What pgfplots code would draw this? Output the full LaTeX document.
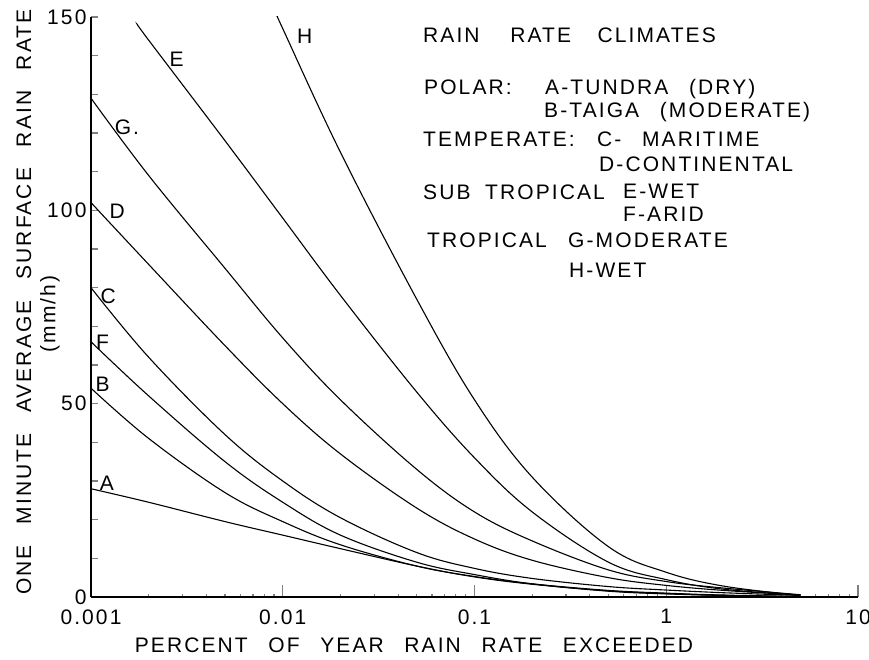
\documentclass[border=0pt]{standalone}
\usepackage{fontspec}
\setmainfont{Liberation Sans}
\newfontfamily\lt{Liberation Sans}[LetterSpace=10.0, WordSpace=2.6]
\usepackage{pgfplots}
\pgfplotsset{compat=1.18}
\newcommand{\fs}{\fontsize{21}{25}\selectfont\lt}

\pgfplotstableread{
x y
0.001 28
0.002 24.5
0.005 19.5
0.01 16
0.02 12.5
0.05 8
0.1 5.2
0.2 3.3
0.5 1.6
1 0.9
2 0.4
5 0.05
}\dataA
\pgfplotstableread{
x y
0.001 54
0.002 41
0.005 27
0.01 19.5
0.02 13.5
0.05 8
0.1 5.3
0.2 3.4
0.5 1.7
1 1.0
2 0.5
5 0.15
}\dataB
\pgfplotstableread{
x y
0.001 80
0.002 62
0.005 42
0.01 30
0.02 20.5
0.05 11.5
0.1 7.4
0.2 4.8
0.5 2.7
1 1.8
2 1.1
5 0.4
}\dataC
\pgfplotstableread{
x y
0.001 102
0.002 86
0.005 65
0.01 50
0.02 37
0.05 23
0.1 15
0.2 9.5
0.5 5
1 3.0
2 1.7
5 0.5
}\dataD
\pgfplotstableread{
x y
0.00175 148
0.002 144
0.005 118
0.01 98
0.02 78
0.05 53
0.1 36
0.2 22
0.5 9
1 4.5
2 2
5 0.5
}\dataE
\pgfplotstableread{
x y
0.001 66
0.002 52
0.005 35
0.01 24.5
0.02 16
0.05 9
0.1 5.8
0.2 3.4
0.5 1.5
1 0.8
2 0.4
5 0.05
}\dataF
\pgfplotstableread{
x y
0.001 129
0.002 109
0.005 85
0.01 67
0.02 51
0.05 33
0.1 22
0.2 14.5
0.5 7.0
1 4.0
2 2.3
5 0.6
}\dataG
\pgfplotstableread{
x y
0.0094 150
0.01 147
0.02 115
0.05 77
0.1 51
0.2 31
0.5 13
1 6.4
2 2.8
5 0.4
}\dataH

\begin{document}
\begin{tikzpicture}[x=1pt,y=1pt]
\path[use as bounding box] (0,0) rectangle (869,659);
\begin{axis}[
  at={(91pt,62pt)}, anchor=south west,
  scale only axis, width=767pt, height=580pt,
  xmode=log, xmin=0.001, xmax=10, ymin=0, ymax=150,
  axis x line=bottom, axis y line=left,
  axis line style={-, line width=1.2pt},
  xtick={0.001,0.01,0.1,1,10}, xticklabels={0.001,0.01,0.1,1,10},
  minor xtick={},
  ytick={0,10,...,150},
  yticklabels={0,,,,,50,,,,,100,,,,,150},
  tick align=inside,
  major tick length=7pt,
  xtick style={/pgfplots/major tick length=12pt, line width=1.1pt},
  ytick style={line width=1.1pt},
  tick label style={font=\fs},
  xticklabel style={yshift=-9pt},
  yticklabel style={xshift=-1pt},
  /pgf/number format/assume math mode=true,
  cycle list={{black, solid}},
]
\addplot[black, solid, line width=1.1pt, smooth, tension=0.6] table {\dataA};
\addplot[black, solid, line width=1.1pt, smooth, tension=0.6] table {\dataB};
\addplot[black, solid, line width=1.1pt, smooth, tension=0.6] table {\dataC};
\addplot[black, solid, line width=1.1pt, smooth, tension=0.6] table {\dataD};
\addplot[black, solid, line width=1.1pt, smooth, tension=0.6] table {\dataE};
\addplot[black, solid, line width=1.1pt, smooth, tension=0.6] table {\dataF};
\addplot[black, solid, line width=1.1pt, smooth, tension=0.6] table {\dataG};
\addplot[black, solid, line width=1.1pt, smooth, tension=0.6] table {\dataH};
\node[font=\fs] at (axis cs:0.00121,29.5) {A};
\node[font=\fs] at (axis cs:0.00115,55) {B};
\node[font=\fs] at (axis cs:0.00123,77.7) {C};
\node[font=\fs] at (axis cs:0.00137,99.7) {D};
\node[font=\fs] at (axis cs:0.00280,139) {E};
\node[font=\fs] at (axis cs:0.00115,66) {F};
\node[font=\fs] at (axis cs:0.00154,121.5) {G.};
\node[font=\fs] at (axis cs:0.01302,145) {H};
\end{axis}
\begin{scope}[every node/.style={font=\fs, inner sep=0pt, anchor=base west}]
\node at (423,616) {RAIN\hspace{10pt} RATE\hspace{6pt} CLIMATES};
\node at (424,564) {POLAR:};
\node at (545,564) {A-TUNDRA (DRY)};
\node at (544,541) {B-TAIGA (MODERATE)};
\node at (423,512) {TEMPERATE:};
\node at (597,512) {C- MARITIME};
\node at (599,487) {D-CONTINENTAL};
\node at (423,459) {SUB\hspace{-6pt} TROPICAL};
\node at (623,460) {E-WET};
\node at (623,437) {F-ARID};
\node at (427,411) {TROPICAL};
\node at (568,411) {G-MODERATE};
\node at (569,381) {H-WET};
\end{scope}
\node[font=\fs, rotate=90, inner sep=0pt] at (24,357) {ONE MINUTE AVERAGE SURFACE RAIN RATE};
\node[font=\fs, rotate=90, inner sep=0pt] at (50,345) {(mm/h)};
\node[font=\fs, inner sep=0pt] at (414,14) {PERCENT OF YEAR RAIN RATE EXCEEDED};
\end{tikzpicture}
\end{document}
